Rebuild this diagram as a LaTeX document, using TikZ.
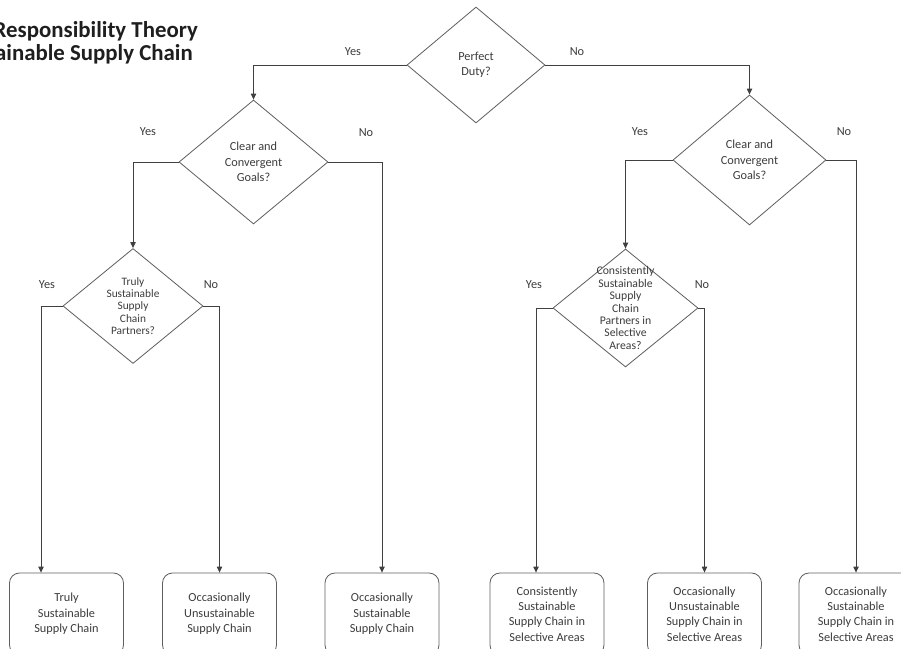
\documentclass[tikz,border=0pt]{standalone}
\usepackage{fontspec}
\setmainfont{Carlito}
\usepackage{tikz}
\usetikzlibrary{shapes.geometric,arrows.meta,positioning}
\definecolor{mygray}{RGB}{95,95,95}
\definecolor{mytext}{RGB}{60,60,60}
\definecolor{mytitle}{RGB}{30,30,30}
\newlength\px
\setlength\px{0.03cm}

\begin{document}
\begin{tikzpicture}[x=\px,y=-\px,
  decision/.style={draw=mygray, line width=0.7pt, diamond, inner sep=0pt},
  qtext/.style={align=center, text=mytext, font=\fontsize{10.5}{13.2}\selectfont},
  outcome/.style={draw=mygray, line width=0.7pt, rounded corners=10\px,
    minimum width=114\px, minimum height=82\px, align=center, text=mytext,
    font=\fontsize{10.5}{13.2}\selectfont},
  flow/.style={draw=black!75, line width=0.7pt, -{Triangle[length=5pt,width=4.5pt]}},
  lbl/.style={text=mytext, font=\fontsize{10.5}{13}\selectfont}]

  \useasboundingbox (0,0) rectangle (901,649);
  \clip (0,0) rectangle (901,649);

  % title (cut at the left edge)
  \node[anchor=base east, inner sep=0pt, text=mytitle, font=\bfseries\fontsize{19.5}{22}\selectfont] (title1) at (198,38) {Responsibility Theory};
  \node[anchor=base east, inner sep=0pt, text=mytitle, font=\bfseries\fontsize{19.5}{22}\selectfont] (title2) at (193,61) {ainable Supply Chain};

  % decisions
  \node[decision, minimum width=138\px, minimum height=116\px,
    label={[qtext]center:{Perfect\\Duty?}}] (d0) at (476,65) {};
  \node[decision, minimum width=149\px, minimum height=124\px,
    label={[qtext]center:{Clear and\\Convergent\\Goals?}}] (d1) at (253.5,162) {};
  \node[decision, minimum width=153\px, minimum height=130\px,
    label={[qtext]center:{Clear and\\Convergent\\Goals?}}] (d2) at (749.5,160) {};
  \node[decision, minimum width=140\px, minimum height=115\px,
    label={[qtext, font=\fontsize{9.7}{10.5}\selectfont]center:{Truly\\Sustainable\\Supply\\Chain\\Partners?}}] (d3) at (133,306) {};
  \node[decision, minimum width=145\px, minimum height=118\px,
    label={[qtext, font=\fontsize{10}{10.6}\selectfont]center:{Consistently\\Sustainable\\Supply\\Chain\\Partners in\\Selective\\Areas?}}] (d4) at (625.5,308) {};

  % outcomes
  \node[outcome] (b1) at (66.5,614) {Truly\\Sustainable\\Supply Chain};
  \node[outcome] (b2) at (219.5,614) {Occasionally\\Unsustainable\\Supply Chain};
  \node[outcome] (b3) at (382,614) {Occasionally\\Sustainable\\Supply Chain};
  \node[outcome] (b4) at (547,614) {Consistently\\Sustainable\\Supply Chain in\\Selective Areas};
  \node[outcome] (b5) at (704.5,614) {Occasionally\\Unsustainable\\Supply Chain in\\Selective Areas};
  \node[outcome] (b6) at (856,614) {Occasionally\\Sustainable\\Supply Chain in\\Selective Areas};

  % connectors
  \draw[flow] (d0.west) -| (d1.north);
  \draw[flow] (d0.east) -| (d2.north);
  \draw[flow] (d1.west) -| (d3.north);
  \draw[flow] (d1.east) -| (b3.north);
  \draw[flow] (d3.west) -| ([xshift=-25.5\px]b1.north);
  \draw[flow] (d3.east) -| (b2.north);
  \draw[flow] (d2.west) -| (d4.north);
  \draw[flow] (d2.east) -| (b6.north);
  \draw[flow] (d4.west) -| ([xshift=-11\px]b4.north);
  \draw[flow] (d4.east) -| (b5.north);

  % yes / no
  \node[lbl] (y0) at (353,52) {Yes};
  \node[lbl] (n0) at (577,52) {No};
  \node[lbl] (y1) at (148,132) {Yes};
  \node[lbl] (n1) at (366,133) {No};
  \node[lbl] (y2) at (640,132) {Yes};
  \node[lbl] (n2) at (844,132) {No};
  \node[lbl] (y3) at (47,285) {Yes};
  \node[lbl] (n3) at (211,285) {No};
  \node[lbl] (y4) at (534,285) {Yes};
  \node[lbl] (n4) at (702,285) {No};
\end{tikzpicture}
\end{document}
